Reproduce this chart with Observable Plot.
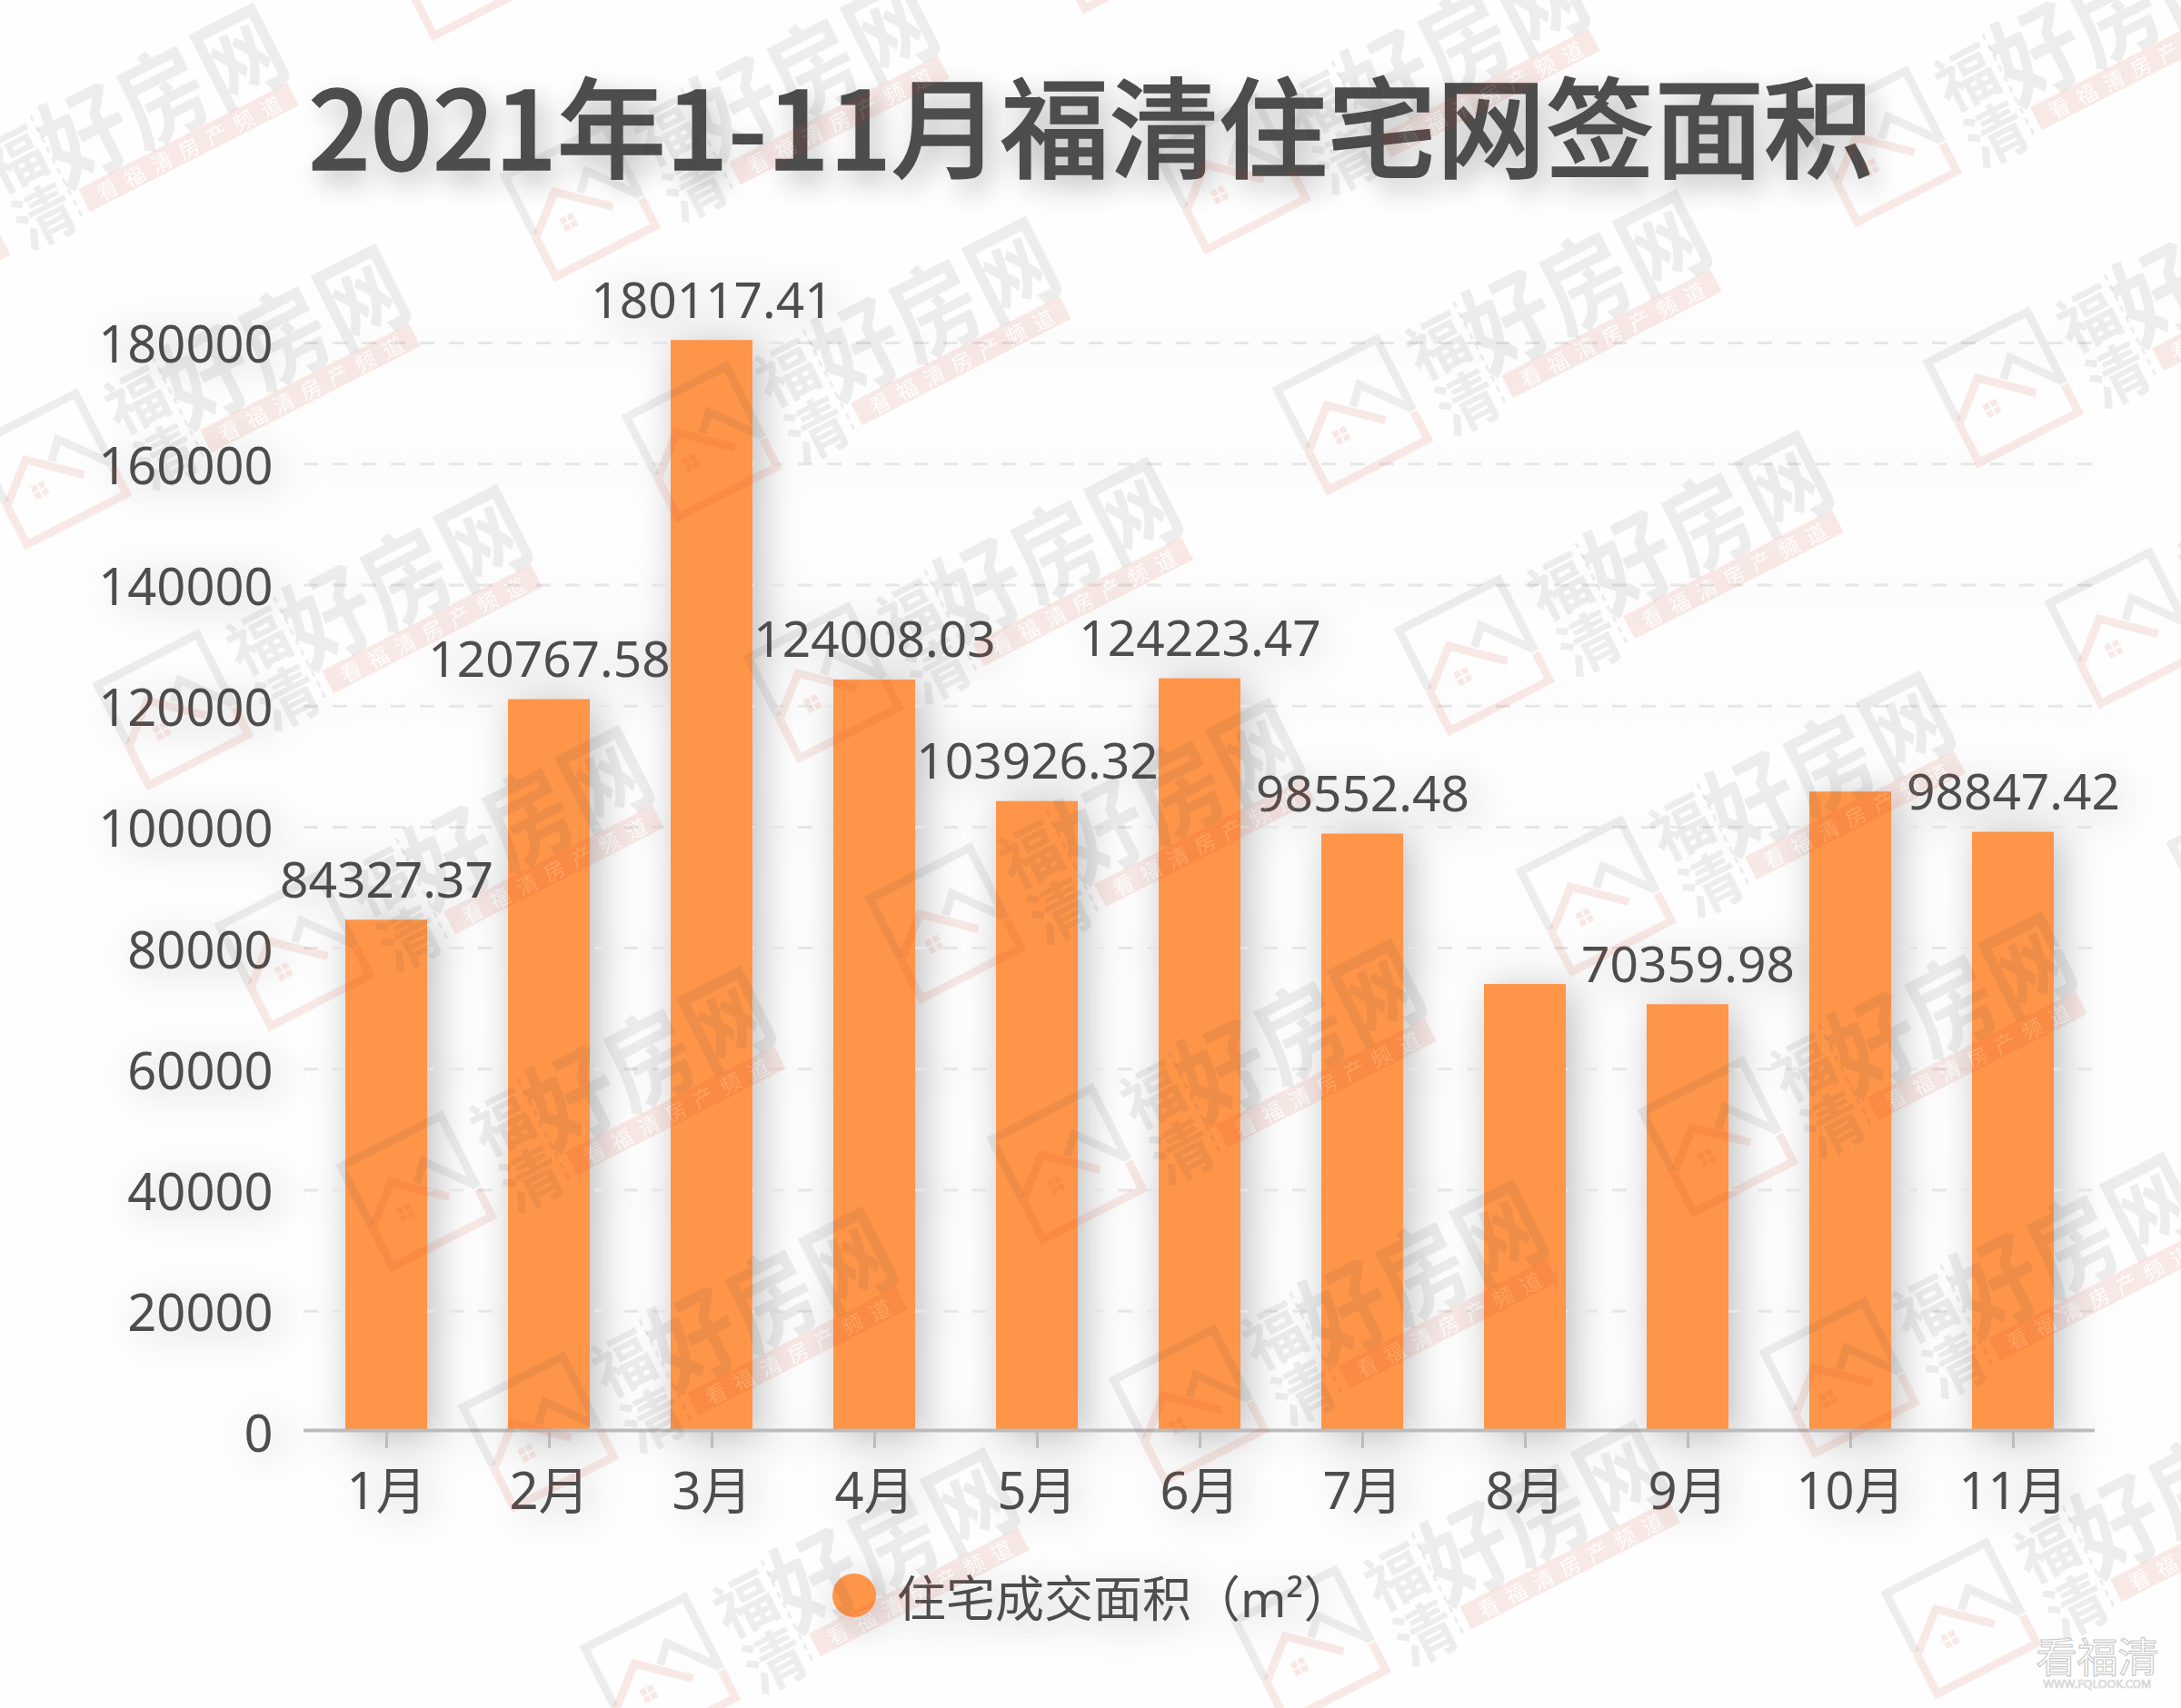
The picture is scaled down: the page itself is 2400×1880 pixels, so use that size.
<!DOCTYPE html>
<html lang="zh">
<head>
<meta charset="utf-8">
<script src="https://cdn.jsdelivr.net/npm/d3@7"></script>
<script src="https://cdn.jsdelivr.net/npm/@observablehq/plot@0.6"></script>
<style>
  html, body { margin: 0; padding: 0; background: #fefefe; }
  body { width: 2400px; height: 1880px; position: relative; overflow: hidden; font-family: "Noto Sans", "Noto Sans CJK SC", sans-serif; color: #4d4d4d; }
  #title { height: 240px; box-sizing: border-box; padding-top: 56px; text-align: center; font-family: "Noto Sans CJK SC", sans-serif; font-weight: 500; font-size: 120px; line-height: 158px; white-space: nowrap; color: #4d4d4d; -webkit-text-stroke: 1.6px #4d4d4d; text-shadow: 8px 12px 30px rgba(0,0,0,.3); }
  #chart svg { display: block; filter: drop-shadow(8px 6px 22px rgba(0,0,0,.26)); }
  #legend { position: absolute; left: 916px; top: 1716px; height: 80px; display: flex; align-items: center; font-size: 54px; white-space: nowrap; filter: drop-shadow(8px 8px 22px rgba(0,0,0,.26)); }
  #legend i { display: block; width: 48px; height: 48px; border-radius: 50%; background: #ff9549; margin-right: 23px; }
  #overlay { position: absolute; left: 0; top: 0; pointer-events: none; }
</style>
</head>
<body>
<div id="title">2021年1-11月福清住宅网签面积</div>
<div id="chart"></div>
<div id="legend"><i></i><span>住宅成交面积（m²）</span></div>
<script>
const months = ["1月","2月","3月","4月","5月","6月","7月","8月","9月","10月","11月"];
const areas = [84327.37,120767.58,180117.41,124008.03,103926.32,124223.47,98552.48,73700,70359.98,105500,98847.42];
const barLabels = ["84327.37","120767.58","180117.41","124008.03","103926.32","124223.47","98552.48","","70359.98","","98847.42"];
const yTicks = [0,20000,40000,60000,80000,100000,120000,140000,160000,180000];

const table = months.map((m,i)=>({month:m, area:areas[i], label:barLabels[i]}));
const ink = "#4d4d4d", axisGray = "#bcbcbc";

const chart = Plot.plot({
  width: 2400, height: 1440,
  marginLeft: 334, marginRight: 95, marginTop: 135, marginBottom: 106,
  style: {background:"transparent", fontFamily:'"Noto Sans","Noto Sans CJK SC",sans-serif', fontSize:"56px", color:ink, overflow:"visible"},
  x: {domain: months, paddingInner: 0.5, paddingOuter: 0.25, label: null},
  y: {domain: [0,180000], label: null},
  marks: [
    Plot.ruleY(yTicks.filter(v=>v>0), {stroke:"#e6e6e6", strokeWidth:3, strokeDasharray:"16 16", dy:2}),
    Plot.barY(table, {x:"month", y:"area", fill:"#ff9549"}),
    Plot.ruleY([0], {stroke:axisGray, strokeWidth:4}),
    Plot.axisX({tickSize:20, tickPadding:27, stroke:axisGray, strokeWidth:3, fontSize:56, fill:ink, label:null, textStroke:"none"}),
    Plot.axisY({ticks:yTicks, tickSize:0, tickPadding:34, tickFormat:d=>String(d), fontSize:56, fill:ink, label:null, dy:6}),
    Plot.text(table.filter(d=>d.label), {x:"month", y:"area", text:"label", dy:-25, lineAnchor:"bottom", fontSize:55, fill:ink})
  ]
});
document.getElementById("chart").appendChild(chart);

// watermark lattice laid over the finished chart
const svg = d3.select("body").append("svg").attr("id","overlay").attr("width",2400).attr("height",1880);
const gray = "rgba(60,60,60,.085)", pink = "rgba(205,60,40,.11)";
const cjk = '"Noto Sans CJK SC",sans-serif';
const bandChars = [..."看福清房产频道"];
const mask = svg.append("defs").append("mask").attr("id","band").attr("maskUnits","userSpaceOnUse")
  .attr("x",160).attr("y",30).attr("width",280).attr("height",40);
mask.append("rect").attr("x",160).attr("y",30).attr("width",280).attr("height",40).attr("fill","#fff");
bandChars.forEach((c,k)=>{
  mask.append("text").text(c).attr("x",195+k*33.7).attr("y",50).attr("text-anchor","middle").attr("dominant-baseline","central").attr("font-family",cjk).attr("font-size",23).attr("fill","#000");
});
for (let i=-2;i<=3;i++) for (let j=-3;j<=6;j++) {
  const px = 1487 + i*716 + j*134, py = 457 - i*30 + j*265;
  if (px < -460 || px > 2480 || py < -160 || py > 2040) continue;
  const g = svg.append("g").attr("transform",`translate(${px},${py}) rotate(-27)`);
  g.append("path").attr("d","M-60,10V-62H63V26M6,-8L23,-26L63,24").attr("fill","none").attr("stroke",gray).attr("stroke-width",9);
  g.append("path").attr("d","M31,22L-19,-22L-60,14V62H63V28").attr("fill","none").attr("stroke",pink).attr("stroke-width",9);
  g.append("path").attr("d","M-28,7h7v7h-7zM-19,7h7v7h-7zM-28,16h7v7h-7zM-19,16h7v7h-7z").attr("fill",pink);
  const big = (t,x,y,s,sx,sy)=>g.append("text").text(t).attr("transform",`translate(${x},${y}) scale(${sx},${sy})`).attr("text-anchor","middle").attr("dominant-baseline","central").attr("font-family",cjk).attr("font-weight",700).attr("font-size",s).attr("fill",gray);
  big("福",119,-29,66,1,1.05); big("清",120,41,66,1,1.05);
  big("好",201,-21,98,.96,1.12); big("房",296,-21,98,.96,1.12); big("网",392,-21,98,.96,1.12);
  g.append("line").attr("x1",157).attr("x2",157).attr("y1",-60).attr("y2",65).attr("stroke",gray).attr("stroke-width",3).attr("stroke-dasharray","7 6");
  g.append("rect").attr("x",167).attr("y",36).attr("width",258).attr("height",28).attr("fill",pink).attr("mask","url(#band)");
  bandChars.forEach((c,k)=>{
    g.append("text").text(c).attr("x",195+k*33.7).attr("y",50).attr("text-anchor","middle").attr("dominant-baseline","central").attr("font-family",cjk).attr("font-size",23).attr("fill","rgba(255,255,255,.12)");
  });
}
// corner logo
svg.append("text").text("看福清").attr("x",2308).attr("y",1841).attr("text-anchor","middle").attr("font-family",cjk).attr("font-size",45).attr("fill","#fff").attr("stroke","#c9c9c9").attr("stroke-width",1.2);
svg.append("text").text("WWW.FQLOOK.COM").attr("x",2308).attr("y",1858).attr("text-anchor","middle").attr("font-family",'"Noto Sans",sans-serif').attr("font-size",12.5).attr("fill","#fff").attr("stroke","#c9c9c9").attr("stroke-width",.6);
</script>
</body>
</html>
